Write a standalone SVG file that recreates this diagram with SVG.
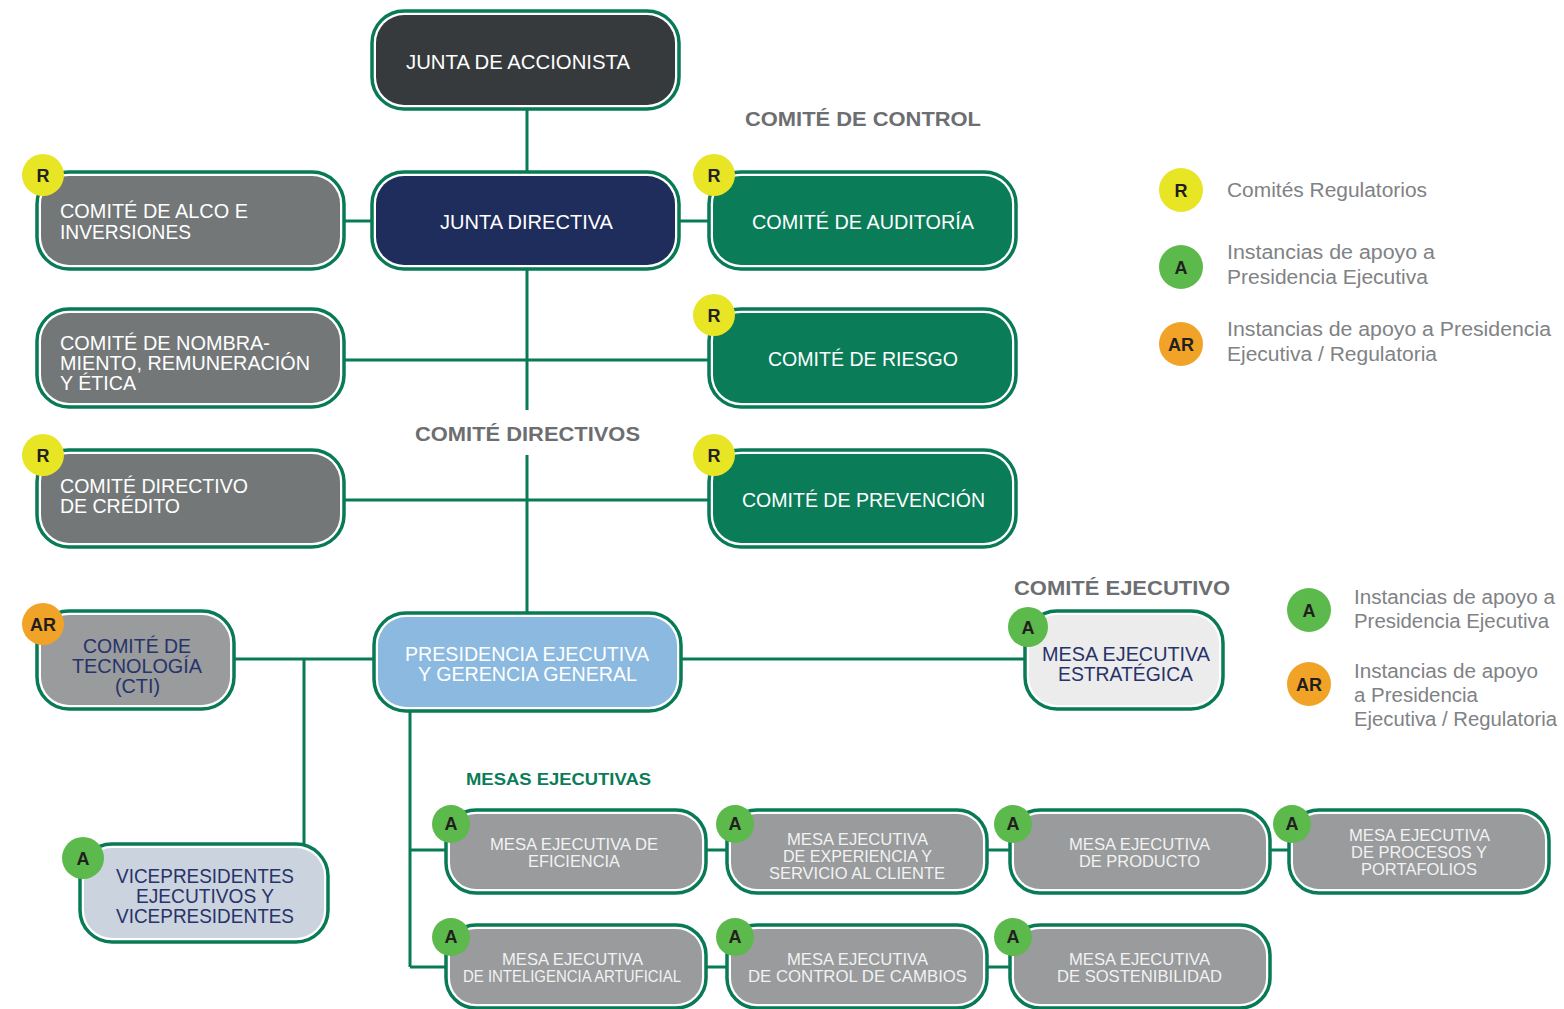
<svg xmlns="http://www.w3.org/2000/svg" width="1564" height="1009" viewBox="0 0 1564 1009">
<style>
.o{fill:#ffffff;stroke:#087a55;stroke-width:3.5}
.dark{fill:#373a3c}.navy{fill:#1f2d5c}.gray{fill:#737778}.green{fill:#0a7c58}.lgray{fill:#999b9d}.blue{fill:#8cb9df}.pale{fill:#ececec}.vice{fill:#cbd3de}
.t{font-family:"Liberation Sans",Arial,sans-serif;font-size:21px;fill:#ffffff}
.tn{fill:#27336a}
.tm{font-family:"Liberation Sans",Arial,sans-serif;font-size:17px;fill:#f2f2f2}
.h{font-family:"Liberation Sans",Arial,sans-serif;font-size:21px;font-weight:bold;fill:#6d6e71}
.hg{font-family:"Liberation Sans",Arial,sans-serif;font-size:17px;font-weight:bold;fill:#0a7c58}
.lg{font-family:"Liberation Sans",Arial,sans-serif;font-size:20px;fill:#808285}
.by{fill:#e8e524}.bg{fill:#5cb94b}.bo{fill:#f0a326}
.bt{font-family:"Liberation Sans",Arial,sans-serif;font-size:18px;font-weight:bold;fill:#231f20;text-anchor:middle}
.c{fill:none;stroke:#087a55;stroke-width:3}
</style>

<g id="connectors">
<path class="c" d="M527 109V172M527 269V410M527 455V613M344 221H372M679 221H709M344 360H709M344 500H709M234 659H374M304 659V844M681 659H1025M410 711V967M410 850H446M410 967H446M706 850H727M987 850H1010M1270 850H1289M706 967H727M987 967H1010"/>
</g>

<g id="headings">
<text class="h" x="745" y="126" textLength="236" lengthAdjust="spacingAndGlyphs">COMITÉ DE CONTROL</text>
<text class="h" x="415" y="441" textLength="225" lengthAdjust="spacingAndGlyphs">COMITÉ DIRECTIVOS</text>
<text class="h" x="1014" y="595" textLength="216" lengthAdjust="spacingAndGlyphs">COMITÉ EJECUTIVO</text>
<text class="hg" x="466" y="785" textLength="185" lengthAdjust="spacingAndGlyphs">MESAS EJECUTIVAS</text>
</g>

<g id="junta-accionista">
<rect class="o" x="372" y="11" width="307" height="98" rx="32"/>
<rect class="dark" x="376" y="15" width="299" height="90" rx="28"/>
<text class="t" x="406" y="69" textLength="224" lengthAdjust="spacingAndGlyphs">JUNTA DE ACCIONISTA</text>
</g>

<g id="junta-directiva">
<rect class="o" x="372" y="172" width="307" height="97" rx="32"/>
<rect class="navy" x="376" y="176" width="299" height="89" rx="28"/>
<text class="t" x="440" y="229" textLength="173" lengthAdjust="spacingAndGlyphs">JUNTA DIRECTIVA</text>
</g>

<g id="comite-alco">
<rect class="o" x="37" y="172" width="307" height="97" rx="32"/>
<rect class="gray" x="41" y="176" width="299" height="89" rx="28"/>
<text class="t" x="60" y="218" textLength="188" lengthAdjust="spacingAndGlyphs">COMITÉ DE ALCO E</text>
<text class="t" x="60" y="239" textLength="131" lengthAdjust="spacingAndGlyphs">INVERSIONES</text>
<circle class="by" cx="43" cy="175" r="21"/><text class="bt" x="43" y="182">R</text>
</g>

<g id="comite-auditoria">
<rect class="o" x="709" y="172" width="307" height="97" rx="32"/>
<rect class="green" x="713" y="176" width="299" height="89" rx="28"/>
<text class="t" x="752" y="229" textLength="222" lengthAdjust="spacingAndGlyphs">COMITÉ DE AUDITORÍA</text>
<circle class="by" cx="714" cy="175" r="21"/><text class="bt" x="714" y="182">R</text>
</g>

<g id="comite-nombramiento">
<rect class="o" x="37" y="309" width="307" height="98" rx="32"/>
<rect class="gray" x="41" y="313" width="299" height="90" rx="28"/>
<text class="t" x="60" y="350" textLength="210" lengthAdjust="spacingAndGlyphs">COMITÉ DE NOMBRA-</text>
<text class="t" x="60" y="370" textLength="250" lengthAdjust="spacingAndGlyphs">MIENTO, REMUNERACIÓN</text>
<text class="t" x="60" y="390" textLength="76" lengthAdjust="spacingAndGlyphs">Y ÉTICA</text>
</g>

<g id="comite-riesgo">
<rect class="o" x="709" y="309" width="307" height="98" rx="32"/>
<rect class="green" x="713" y="313" width="299" height="90" rx="28"/>
<text class="t" x="768" y="366" textLength="190" lengthAdjust="spacingAndGlyphs">COMITÉ DE RIESGO</text>
<circle class="by" cx="714" cy="315" r="21"/><text class="bt" x="714" y="322">R</text>
</g>

<g id="comite-credito">
<rect class="o" x="37" y="450" width="307" height="97" rx="32"/>
<rect class="gray" x="41" y="454" width="299" height="89" rx="28"/>
<text class="t" x="60" y="493" textLength="188" lengthAdjust="spacingAndGlyphs">COMITÉ DIRECTIVO</text>
<text class="t" x="60" y="513" textLength="120" lengthAdjust="spacingAndGlyphs">DE CRÉDITO</text>
<circle class="by" cx="43" cy="455" r="21"/><text class="bt" x="43" y="462">R</text>
</g>

<g id="comite-prevencion">
<rect class="o" x="709" y="450" width="307" height="97" rx="32"/>
<rect class="green" x="713" y="454" width="299" height="89" rx="28"/>
<text class="t" x="742" y="507" textLength="243" lengthAdjust="spacingAndGlyphs">COMITÉ DE PREVENCIÓN</text>
<circle class="by" cx="714" cy="455" r="21"/><text class="bt" x="714" y="462">R</text>
</g>

<g id="comite-tecnologia">
<rect class="o" x="37" y="611" width="197" height="98" rx="32"/>
<rect class="lgray" x="41" y="615" width="189" height="90" rx="28"/>
<text class="t tn" x="83" y="653" textLength="108" lengthAdjust="spacingAndGlyphs">COMITÉ DE</text>
<text class="t tn" x="72" y="673" textLength="130" lengthAdjust="spacingAndGlyphs">TECNOLOGÍA</text>
<text class="t tn" x="115" y="693" textLength="45" lengthAdjust="spacingAndGlyphs">(CTI)</text>
<circle class="bo" cx="43" cy="624" r="21"/><text class="bt" x="43" y="631">AR</text>
</g>

<g id="presidencia">
<rect class="o" x="374" y="613" width="307" height="98" rx="32"/>
<rect class="blue" x="378" y="617" width="299" height="90" rx="28"/>
<text class="t" x="405" y="661" textLength="244" lengthAdjust="spacingAndGlyphs">PRESIDENCIA EJECUTIVA</text>
<text class="t" x="418" y="681" textLength="219" lengthAdjust="spacingAndGlyphs">Y GERENCIA GENERAL</text>
</g>

<g id="mesa-estrategica">
<rect class="o" x="1025" y="611" width="198" height="98" rx="32"/>
<rect class="pale" x="1029" y="615" width="190" height="90" rx="28"/>
<text class="t tn" x="1042" y="661" textLength="168" lengthAdjust="spacingAndGlyphs">MESA EJECUTIVA</text>
<text class="t tn" x="1058" y="681" textLength="135" lengthAdjust="spacingAndGlyphs">ESTRATÉGICA</text>
<circle class="bg" cx="1028" cy="627" r="20"/><text class="bt" x="1028" y="634">A</text>
</g>

<g id="vicepresidentes">
<rect class="o" x="80" y="844" width="248" height="98" rx="32"/>
<rect class="vice" x="84" y="848" width="240" height="90" rx="28"/>
<text class="t tn" x="116" y="883" textLength="178" lengthAdjust="spacingAndGlyphs">VICEPRESIDENTES</text>
<text class="t tn" x="136" y="903" textLength="138" lengthAdjust="spacingAndGlyphs">EJECUTIVOS Y</text>
<text class="t tn" x="116" y="923" textLength="178" lengthAdjust="spacingAndGlyphs">VICEPRESIDENTES</text>
<circle class="bg" cx="83" cy="858" r="21"/><text class="bt" x="83" y="865">A</text>
</g>

<g id="mesa-eficiencia">
<rect class="o" x="446" y="810" width="260" height="83" rx="30"/>
<rect class="lgray" x="450" y="814" width="252" height="75" rx="26"/>
<text class="tm" x="490" y="850" textLength="168" lengthAdjust="spacingAndGlyphs">MESA EJECUTIVA DE</text>
<text class="tm" x="528" y="867" textLength="92" lengthAdjust="spacingAndGlyphs">EFICIENCIA</text>
<circle class="bg" cx="451" cy="824" r="19"/><text class="bt" x="451" y="830">A</text>
</g>

<g id="mesa-experiencia">
<rect class="o" x="727" y="810" width="260" height="83" rx="30"/>
<rect class="lgray" x="731" y="814" width="252" height="75" rx="26"/>
<text class="tm" x="787" y="845" textLength="141" lengthAdjust="spacingAndGlyphs">MESA EJECUTIVA</text>
<text class="tm" x="783" y="862" textLength="149" lengthAdjust="spacingAndGlyphs">DE EXPERIENCIA Y</text>
<text class="tm" x="769" y="879" textLength="176" lengthAdjust="spacingAndGlyphs">SERVICIO AL CLIENTE</text>
<circle class="bg" cx="735" cy="824" r="19"/><text class="bt" x="735" y="830">A</text>
</g>

<g id="mesa-producto">
<rect class="o" x="1010" y="810" width="260" height="83" rx="30"/>
<rect class="lgray" x="1014" y="814" width="252" height="75" rx="26"/>
<text class="tm" x="1069" y="850" textLength="141" lengthAdjust="spacingAndGlyphs">MESA EJECUTIVA</text>
<text class="tm" x="1079" y="867" textLength="121" lengthAdjust="spacingAndGlyphs">DE PRODUCTO</text>
<circle class="bg" cx="1013" cy="824" r="19"/><text class="bt" x="1013" y="830">A</text>
</g>

<g id="mesa-procesos">
<rect class="o" x="1289" y="810" width="260" height="83" rx="30"/>
<rect class="lgray" x="1293" y="814" width="252" height="75" rx="26"/>
<text class="tm" x="1349" y="841" textLength="141" lengthAdjust="spacingAndGlyphs">MESA EJECUTIVA</text>
<text class="tm" x="1351" y="858" textLength="136" lengthAdjust="spacingAndGlyphs">DE PROCESOS Y</text>
<text class="tm" x="1361" y="875" textLength="116" lengthAdjust="spacingAndGlyphs">PORTAFOLIOS</text>
<circle class="bg" cx="1292" cy="824" r="19"/><text class="bt" x="1292" y="830">A</text>
</g>

<g id="mesa-inteligencia">
<rect class="o" x="446" y="925" width="260" height="83" rx="30"/>
<rect class="lgray" x="450" y="929" width="252" height="75" rx="26"/>
<text class="tm" x="502" y="965" textLength="141" lengthAdjust="spacingAndGlyphs">MESA EJECUTIVA</text>
<text class="tm" x="463" y="982" textLength="218" lengthAdjust="spacingAndGlyphs">DE INTELIGENCIA ARTUFICIAL</text>
<circle class="bg" cx="451" cy="937" r="19"/><text class="bt" x="451" y="943">A</text>
</g>

<g id="mesa-cambios">
<rect class="o" x="727" y="925" width="260" height="83" rx="30"/>
<rect class="lgray" x="731" y="929" width="252" height="75" rx="26"/>
<text class="tm" x="787" y="965" textLength="141" lengthAdjust="spacingAndGlyphs">MESA EJECUTIVA</text>
<text class="tm" x="748" y="982" textLength="219" lengthAdjust="spacingAndGlyphs">DE CONTROL DE CAMBIOS</text>
<circle class="bg" cx="735" cy="937" r="19"/><text class="bt" x="735" y="943">A</text>
</g>

<g id="mesa-sostenibilidad">
<rect class="o" x="1010" y="925" width="260" height="83" rx="30"/>
<rect class="lgray" x="1014" y="929" width="252" height="75" rx="26"/>
<text class="tm" x="1069" y="965" textLength="141" lengthAdjust="spacingAndGlyphs">MESA EJECUTIVA</text>
<text class="tm" x="1057" y="982" textLength="165" lengthAdjust="spacingAndGlyphs">DE SOSTENIBILIDAD</text>
<circle class="bg" cx="1013" cy="937" r="19"/><text class="bt" x="1013" y="943">A</text>
</g>

<g id="legend-1">
<circle class="by" cx="1181" cy="190" r="22"/><text class="bt" x="1181" y="197">R</text>
<text class="lg" x="1227" y="197" textLength="200" lengthAdjust="spacingAndGlyphs">Comités Regulatorios</text>
<circle class="bg" cx="1181" cy="267" r="22"/><text class="bt" x="1181" y="274">A</text>
<text class="lg" x="1227" y="259" textLength="208" lengthAdjust="spacingAndGlyphs">Instancias de apoyo a</text>
<text class="lg" x="1227" y="284" textLength="201" lengthAdjust="spacingAndGlyphs">Presidencia Ejecutiva</text>
<circle class="bo" cx="1181" cy="344" r="22"/><text class="bt" x="1181" y="351">AR</text>
<text class="lg" x="1227" y="336" textLength="324" lengthAdjust="spacingAndGlyphs">Instancias de apoyo a Presidencia</text>
<text class="lg" x="1227" y="361" textLength="210" lengthAdjust="spacingAndGlyphs">Ejecutiva / Regulatoria</text>
</g>

<g id="legend-2">
<circle class="bg" cx="1309" cy="610" r="22"/><text class="bt" x="1309" y="617">A</text>
<text class="lg" x="1354" y="604" textLength="201" lengthAdjust="spacingAndGlyphs">Instancias de apoyo a</text>
<text class="lg" x="1354" y="628" textLength="195" lengthAdjust="spacingAndGlyphs">Presidencia Ejecutiva</text>
<circle class="bo" cx="1309" cy="684" r="22"/><text class="bt" x="1309" y="691">AR</text>
<text class="lg" x="1354" y="678" textLength="184" lengthAdjust="spacingAndGlyphs">Instancias de apoyo</text>
<text class="lg" x="1354" y="702" textLength="124" lengthAdjust="spacingAndGlyphs">a Presidencia</text>
<text class="lg" x="1354" y="726" textLength="203" lengthAdjust="spacingAndGlyphs">Ejecutiva / Regulatoria</text>
</g>
</svg>
